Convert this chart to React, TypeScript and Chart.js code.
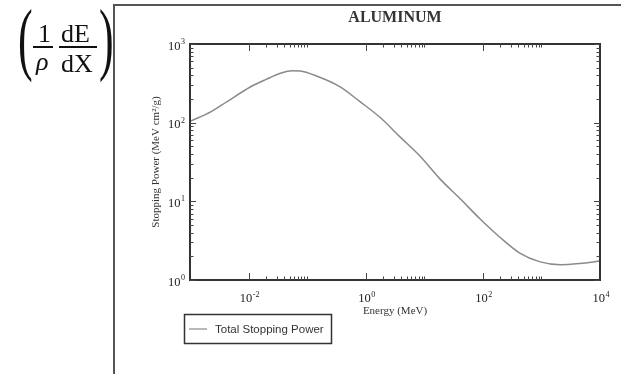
import { useEffect, useRef } from "react";
import { Chart, registerables } from "chart.js";

Chart.register(...registerables);

// ---- data ----
const energyMeV = [
  0.001, 0.0023, 0.0043, 0.0105, 0.02, 0.035, 0.055, 0.076, 0.145, 0.36, 0.8,
  1.75, 3.85, 8.5, 18.5, 41, 89, 195, 427, 955, 2100, 4600, 10000,
];
const stoppingPower = [
  104, 138, 185, 282, 355, 424, 458, 454, 392, 287, 185, 117, 66, 37.5, 19.3,
  10.8, 6.0, 3.5, 2.2, 1.7, 1.56, 1.62, 1.74,
];

const xLabelValues = [0.01, 1, 100, 10000];
const xLabelExponents = ["-2", "0", "2", "4"];
const yLabelValues = [1, 10, 100, 1000];
const yLabelExponents = ["0", "1", "2", "3"];

const xMajorTicks = [0.01, 1, 100];
const xMinorMultipliers = [2, 3, 4, 5, 6, 7, 8, 9, 10];
const yMajorTicks = [1, 10, 100, 1000];
const yMinorDecades = [1, 10, 100];
const yMinorMultipliers = [2, 3, 4, 5, 6, 7, 8, 9];

const chartTitle = "ALUMINUM";
const xAxisTitle = "Energy (MeV)";
const yAxisTitle = "Stopping Power (MeV cm\u00B2/g)";
const seriesName = "Total Stopping Power";

const SERIF = '"Liberation Serif", "Times New Roman", serif';
const SANS = '"Liberation Sans", Arial, sans-serif';

function drawPower(
  ctx: CanvasRenderingContext2D,
  exp: string,
  x: number,
  baseline: number,
  align: "center" | "right"
) {
  ctx.font = `12.5px ${SERIF}`;
  const wBase = ctx.measureText("10").width;
  ctx.font = `8px ${SERIF}`;
  const wExp = ctx.measureText(exp).width;
  const total = wBase + 0.5 + wExp;
  const x0 = align === "center" ? x - total / 2 : x - total;
  ctx.textAlign = "left";
  ctx.textBaseline = "alphabetic";
  ctx.font = `12.5px ${SERIF}`;
  ctx.fillText("10", x0, baseline);
  ctx.font = `8px ${SERIF}`;
  ctx.fillText(exp, x0 + wBase + 0.5, baseline - 5.5);
}

const decorPlugin = {
  id: "decor",
  afterDraw(chart: any) {
    const { ctx, chartArea } = chart;
    const { left, right, top, bottom } = chartArea;
    const xs = chart.scales.x;
    const ys = chart.scales.y;
    ctx.save();

    // outer page frame
    ctx.strokeStyle = "#555";
    ctx.lineWidth = 2;
    ctx.beginPath();
    ctx.moveTo(114, 374);
    ctx.lineTo(114, 5);
    ctx.lineTo(621, 5);
    ctx.stroke();

    // plot frame
    ctx.strokeStyle = "#333";
    ctx.lineWidth = 2;
    ctx.strokeRect(left, top, right - left, bottom - top);

    // ticks
    ctx.lineWidth = 1;
    ctx.strokeStyle = "#444";
    const vTick = (v: number, len: number) => {
      const px = Math.round(xs.getPixelForValue(v)) + 0.5;
      ctx.beginPath();
      ctx.moveTo(px, bottom);
      ctx.lineTo(px, bottom - len);
      ctx.moveTo(px, top);
      ctx.lineTo(px, top + len);
      ctx.stroke();
    };
    const hTick = (v: number, len: number) => {
      const py = Math.round(ys.getPixelForValue(v)) + 0.5;
      ctx.beginPath();
      ctx.moveTo(left, py);
      ctx.lineTo(left + len, py);
      ctx.moveTo(right, py);
      ctx.lineTo(right - len, py);
      ctx.stroke();
    };
    xMajorTicks.forEach((v) => {
      vTick(v, 7);
      xMinorMultipliers.forEach((m) => vTick(v * m, 3.5));
    });
    yMajorTicks.forEach((v) => hTick(v, 6));
    yMinorDecades.forEach((d) =>
      yMinorMultipliers.forEach((m) => hTick(d * m, 3.5))
    );

    // tick labels
    ctx.fillStyle = "#222";
    xLabelValues.forEach((v, i) => {
      drawPower(ctx, xLabelExponents[i], xs.getPixelForValue(v) + 1, bottom + 22, "center");
    });
    yLabelValues.forEach((v, i) => {
      drawPower(ctx, yLabelExponents[i], left - 5, ys.getPixelForValue(v) + 5.5, "right");
    });

    // title
    ctx.fillStyle = "#333";
    ctx.font = `bold 16px ${SERIF}`;
    ctx.textAlign = "center";
    ctx.textBaseline = "alphabetic";
    ctx.fillText(chartTitle, (left + right) / 2, 22);

    // axis titles
    ctx.font = `11px ${SERIF}`;
    ctx.fillText(xAxisTitle, (left + right) / 2, bottom + 34);
    ctx.save();
    ctx.translate(159, (top + bottom) / 2);
    ctx.rotate(-Math.PI / 2);
    ctx.textAlign = "center";
    ctx.fillText(yAxisTitle, 0, 0);
    ctx.restore();

    // legend
    ctx.strokeStyle = "#333";
    ctx.lineWidth = 1.5;
    ctx.strokeRect(184.5, 314.5, 147, 29);
    ctx.strokeStyle = "#8a8a8a";
    ctx.lineWidth = 1.2;
    ctx.beginPath();
    ctx.moveTo(189, 329);
    ctx.lineTo(207, 329);
    ctx.stroke();
    ctx.fillStyle = "#333";
    ctx.font = `11.5px ${SANS}`;
    ctx.textAlign = "left";
    ctx.fillText(seriesName, 215, 333);

    ctx.restore();
  },
};

export default function App() {
  const canvasRef = useRef<HTMLCanvasElement | null>(null);

  useEffect(() => {
    document.body.style.margin = "0";
    const canvas = canvasRef.current;
    if (!canvas) return;
    const chart = new Chart(canvas, {
      type: "line",
      data: {
        datasets: [
          {
            label: seriesName,
            data: energyMeV.map((e, i) => ({ x: e, y: stoppingPower[i] })),
            borderColor: "#8a8a8a",
            borderWidth: 1.5,
            pointRadius: 0,
            fill: false,
            cubicInterpolationMode: "monotone",
          },
        ],
      },
      options: {
        responsive: false,
        maintainAspectRatio: false,
        animation: false,
        layout: { padding: { left: 190, top: 44, right: 21, bottom: 94 } },
        plugins: {
          legend: { display: false },
          tooltip: { enabled: false },
          title: { display: false },
        },
        scales: {
          x: { type: "logarithmic", min: 0.001, max: 10000, display: false },
          y: { type: "logarithmic", min: 1, max: 1000, display: false },
        },
      },
      plugins: [decorPlugin],
    } as any);
    return () => chart.destroy();
  }, []);

  const serif: React.CSSProperties = {
    position: "absolute",
    fontFamily: SERIF,
    lineHeight: 1,
    whiteSpace: "nowrap",
    color: "#111",
  };

  return (
    <div style={{ position: "relative", width: 621, height: 374, background: "#fff" }}>
      <canvas
        ref={canvasRef}
        width={621}
        height={374}
        style={{ position: "absolute", left: 0, top: 0, display: "block" }}
      />
      <span style={{ ...serif, fontSize: 80, left: 18, top: -2, transform: "scaleX(0.55)", transformOrigin: "left top" }}>(</span>
      <span style={{ ...serif, fontSize: 26, left: 38, top: 21 }}>1</span>
      <div style={{ position: "absolute", left: 33, top: 46, width: 20, height: 1.5, background: "#111" }} />
      <span style={{ ...serif, fontSize: 26, left: 36, top: 49, fontStyle: "italic" }}>ρ</span>
      <span style={{ ...serif, fontSize: 26, left: 61, top: 21 }}>dE</span>
      <div style={{ position: "absolute", left: 59, top: 46, width: 38, height: 1.5, background: "#111" }} />
      <span style={{ ...serif, fontSize: 26, left: 61, top: 51 }}>dX</span>
      <span style={{ ...serif, fontSize: 80, left: 99, top: -2, transform: "scaleX(0.55)", transformOrigin: "left top" }}>)</span>
    </div>
  );
}
